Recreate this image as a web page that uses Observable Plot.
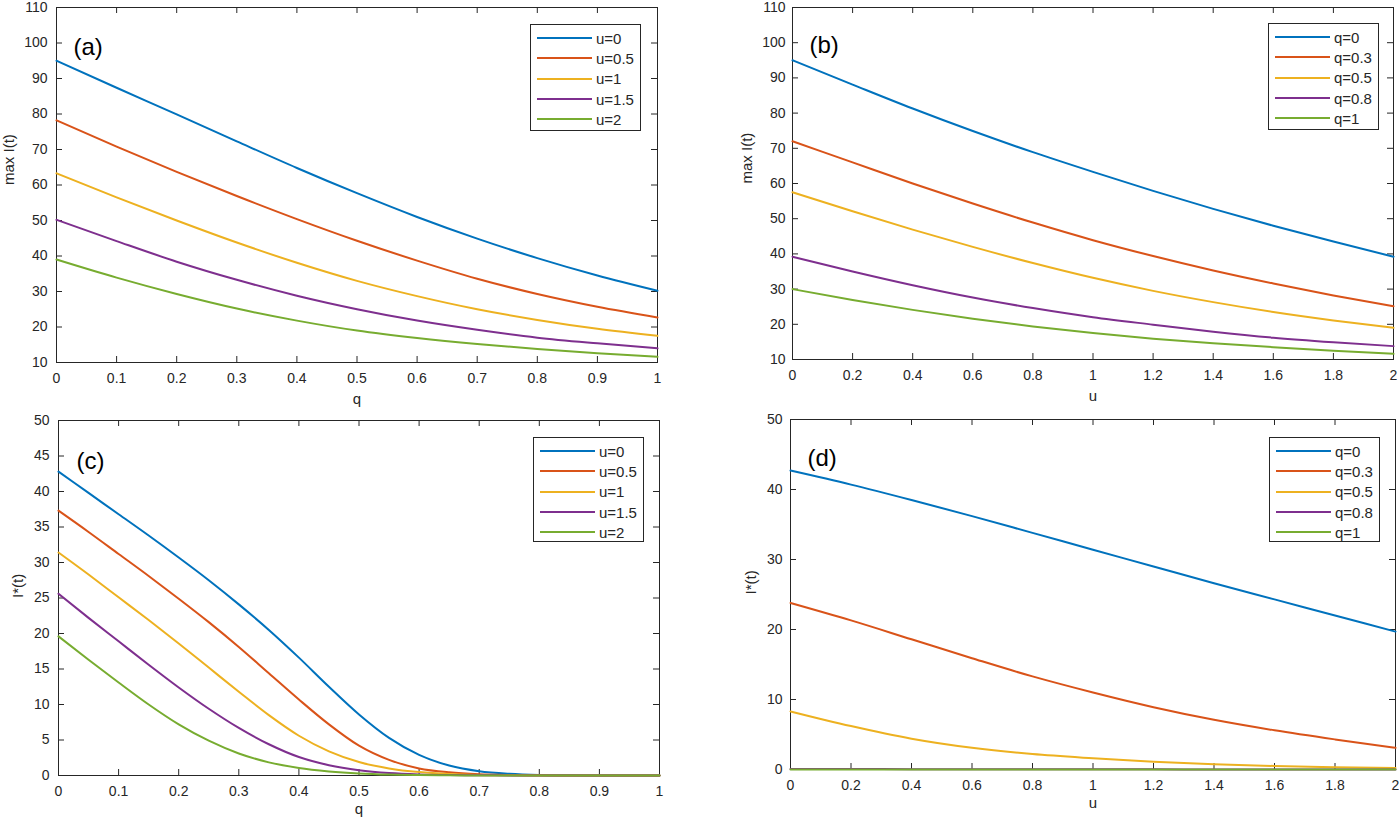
<!DOCTYPE html>
<html><head><meta charset="utf-8">
<script src="https://cdn.jsdelivr.net/npm/d3@7"></script>
<script src="https://cdn.jsdelivr.net/npm/@observablehq/plot@0.6"></script>
<style>
body{margin:0;background:#fff;font-family:"Liberation Sans",Arial,Helvetica,sans-serif;}
#wrap{position:relative;width:1399px;height:825px;overflow:hidden;background:#fff;}
.panel{position:absolute;}
.legend{position:absolute;border:1px solid #262626;background:#fff;box-sizing:border-box;padding-top:3px;}
.row{height:20.3px;display:flex;align-items:center;font-size:15px;color:#262626;white-space:nowrap;}
.sw{width:55px;height:2px;margin-left:6px;margin-right:4px;flex:none;}
</style></head><body><div id="wrap"></div>
<script>
// ---------- data ----------
const COLORS = ["#0072BD", "#D95319", "#EDB120", "#7E2F8E", "#77AC30"];

// panel (a): max I(t) vs q
const aNames = ["u=0", "u=0.5", "u=1", "u=1.5", "u=2"];
const aQ = [0, 0.1, 0.2, 0.3, 0.4, 0.5, 0.6, 0.7, 0.8, 0.9, 1];
const aU0  = [95.0, 87.4, 79.9, 72.3, 64.8, 57.7, 51.0, 44.9, 39.4, 34.5, 30.2];
const aU05 = [78.2, 70.8, 63.7, 56.9, 50.4, 44.3, 38.7, 33.6, 29.3, 25.7, 22.7];
const aU1  = [63.3, 56.5, 50.0, 43.8, 38.1, 33.0, 28.7, 25.0, 22.0, 19.5, 17.5];
const aU15 = [50.2, 44.2, 38.4, 33.3, 28.8, 25.0, 21.8, 19.2, 17.0, 15.4, 14.0];
const aU2  = [39.0, 33.9, 29.3, 25.2, 21.8, 19.0, 16.9, 15.2, 13.8, 12.6, 11.6];

// panel (b): max I(t) vs u
const bNames = ["q=0", "q=0.3", "q=0.5", "q=0.8", "q=1"];
const bU = [0, 0.2, 0.4, 0.6, 0.8, 1, 1.2, 1.4, 1.6, 1.8, 2];
const bQ0  = [95.0, 88.1, 81.3, 74.9, 68.9, 63.3, 57.9, 52.8, 48.0, 43.5, 39.2];
const bQ03 = [72.0, 66.0, 60.0, 54.3, 48.9, 43.9, 39.4, 35.3, 31.6, 28.2, 25.1];
const bQ05 = [57.5, 52.1, 46.9, 42.0, 37.4, 33.2, 29.5, 26.3, 23.5, 21.1, 19.0];
const bQ08 = [39.2, 35.0, 31.1, 27.6, 24.6, 22.0, 19.9, 17.9, 16.2, 14.9, 13.8];
const bQ1  = [30.0, 26.9, 24.1, 21.6, 19.4, 17.5, 15.9, 14.6, 13.5, 12.5, 11.6];

// panel (c): I*(t) vs q
const cNames = ["u=0", "u=0.5", "u=1", "u=1.5", "u=2"];
const cQ = [0, 0.05, 0.1, 0.15, 0.2, 0.25, 0.3, 0.35, 0.4, 0.45, 0.5, 0.55, 0.6, 0.65, 0.7, 0.75, 0.8, 0.85, 0.9, 0.95, 1];
const cU0  = [42.8, 39.8, 36.8, 33.8, 30.7, 27.5, 24.1, 20.5, 16.6, 12.5, 8.6, 5.3, 2.9, 1.4, 0.6, 0.24, 0.08, 0.03, 0.01, 0, 0];
const cU05 = [37.3, 34.3, 31.2, 28.1, 24.9, 21.6, 18.1, 14.4, 10.7, 7.2, 4.2, 2.2, 1.0, 0.45, 0.18, 0.07, 0.02, 0, 0, 0, 0];
const cU1  = [31.4, 28.3, 25.1, 21.9, 18.6, 15.2, 11.8, 8.5, 5.6, 3.4, 1.9, 1.0, 0.48, 0.2, 0.08, 0.03, 0.01, 0, 0, 0, 0];
const cU15 = [25.6, 22.2, 18.9, 15.6, 12.4, 9.4, 6.7, 4.4, 2.6, 1.45, 0.75, 0.35, 0.15, 0.06, 0.03, 0.01, 0, 0, 0, 0, 0];
const cU2  = [19.6, 16.3, 13.1, 10.0, 7.2, 4.9, 3.1, 1.85, 1.05, 0.58, 0.29, 0.13, 0.06, 0.02, 0.01, 0, 0, 0, 0, 0, 0];

// panel (d): I*(t) vs u
const dNames = ["q=0", "q=0.3", "q=0.5", "q=0.8", "q=1"];
const dU = [0, 0.2, 0.4, 0.6, 0.8, 1, 1.2, 1.4, 1.6, 1.8, 2];
const dQ0  = [42.7, 40.7, 38.5, 36.2, 33.8, 31.4, 29.0, 26.6, 24.3, 22.0, 19.7];
const dQ03 = [23.8, 21.3, 18.6, 15.9, 13.3, 11.0, 8.9, 7.1, 5.6, 4.3, 3.1];
const dQ05 = [8.3, 6.2, 4.4, 3.1, 2.2, 1.6, 1.1, 0.75, 0.5, 0.33, 0.2];
const dQ08 = [0.08, 0.06, 0.05, 0.04, 0.03, 0.02, 0.02, 0.01, 0.01, 0.01, 0.01];
const dQ1  = [0, 0, 0, 0, 0, 0, 0, 0, 0, 0, 0];

// tick values
const ticksQ = [0, 0.1, 0.2, 0.3, 0.4, 0.5, 0.6, 0.7, 0.8, 0.9, 1];
const ticksU = [0, 0.2, 0.4, 0.6, 0.8, 1, 1.2, 1.4, 1.6, 1.8, 2];
const ticksMax = [10, 20, 30, 40, 50, 60, 70, 80, 90, 100, 110];
const ticksIc = [0, 5, 10, 15, 20, 25, 30, 35, 40, 45, 50];
const ticksId = [0, 10, 20, 30, 40, 50];

// ---------- drawing ----------
const FONT = '"Liberation Sans", Arial, Helvetica, sans-serif';
const INK = "#262626";
const wrap = document.getElementById("wrap");

function panel(cfg) {
  const H = cfg.height - cfg.mt - cfg.mb;
  const W = cfg.width - cfg.ml - cfg.mr;
  const rows = [];
  cfg.series.forEach((vals, i) => vals.forEach((v, j) => rows.push({x: cfg.xs[j], y: v, s: cfg.names[i]})));
  const TL = 6;
  const fmt = d => String(+d.toFixed(2));
  const svg = Plot.plot({
    width: cfg.width, height: cfg.height,
    marginTop: cfg.mt, marginRight: cfg.mr, marginBottom: cfg.mb, marginLeft: cfg.ml,
    x: {domain: cfg.xDomain, label: null},
    y: {domain: cfg.yDomain, label: null},
    color: {domain: cfg.names, range: COLORS},
    style: {fontFamily: FONT, fontSize: "14px", color: INK, background: "white", overflow: "visible"},
    marks: [
      Plot.frame({stroke: INK, strokeWidth: 1}),
      Plot.ruleX(cfg.xTicks, {x: d => d, insetTop: H - TL, stroke: INK}),
      Plot.ruleX(cfg.xTicks, {x: d => d, insetBottom: H - TL, stroke: INK}),
      Plot.ruleY(cfg.yTicks, {y: d => d, insetRight: W - TL, stroke: INK}),
      Plot.ruleY(cfg.yTicks, {y: d => d, insetLeft: W - TL, stroke: INK}),
      Plot.line(rows, {x: "x", y: "y", z: "s", stroke: "s", strokeWidth: 2, curve: "monotone-x"}),
      Plot.axisX(cfg.xTicks, {tickSize: 0, tickPadding: cfg.xPad, tickFormat: fmt, label: null}),
      Plot.axisY(cfg.yTicks, {tickSize: 0, tickPadding: cfg.yPad, tickFormat: fmt, label: null}),
      Plot.text([cfg.xLabel], {frameAnchor: "bottom", dy: cfg.xlDy, fontSize: 15, fill: INK}),
      Plot.text([cfg.yLabel], {frameAnchor: "left", dx: cfg.ylDx, rotate: -90, fontSize: 15, fill: INK}),
      Plot.text([cfg.tag], {frameAnchor: "top-left", dx: cfg.tagDx, dy: cfg.tagDy, textAnchor: "start", fontSize: 24, fill: "black"})
    ]
  });
  svg.classList.add("panel");
  svg.style.left = cfg.left + "px";
  svg.style.top = cfg.top + "px";
  wrap.appendChild(svg);

  const lg = document.createElement("div");
  lg.className = "legend";
  lg.style.left = cfg.legend.left + "px";
  lg.style.top = cfg.legend.top + "px";
  lg.style.width = cfg.legend.width + "px";
  lg.style.height = cfg.legend.height + "px";
  cfg.names.forEach((n, i) => {
    const r = document.createElement("div");
    r.className = "row";
    const sw = document.createElement("div");
    sw.className = "sw";
    sw.style.background = COLORS[i];
    const t = document.createElement("span");
    t.textContent = n;
    r.appendChild(sw); r.appendChild(t);
    lg.appendChild(r);
  });
  wrap.appendChild(lg);
}

panel({
  left: 0, top: 0, width: 700, height: 410, mt: 7, mr: 43, mb: 48, ml: 56,
  xs: aQ, names: aNames, series: [aU0, aU05, aU1, aU15, aU2],
  xDomain: [0, 1], yDomain: [10, 110], xTicks: ticksQ, yTicks: ticksMax,
  xLabel: "q", yLabel: "max I(t)", xlDy: 41, ylDx: -47, xPad: 11, yPad: 9,
  tag: "(a)", tagDx: 17, tagDy: 30,
  legend: {left: 530, top: 24, width: 111, height: 107}
});
panel({
  left: 700, top: 0, width: 699, height: 410, mt: 7, mr: 6, mb: 51, ml: 92,
  xs: bU, names: bNames, series: [bQ0, bQ03, bQ05, bQ08, bQ1],
  xDomain: [0, 2], yDomain: [10, 110], xTicks: ticksU, yTicks: ticksMax,
  xLabel: "u", yLabel: "max I(t)", xlDy: 41, ylDx: -45, xPad: 11, yPad: 7,
  tag: "(b)", tagDx: 17, tagDy: 28,
  legend: {left: 1268, top: 23, width: 111, height: 107}
});
panel({
  left: 0, top: 410, width: 700, height: 415, mt: 10, mr: 41, mb: 50, ml: 58,
  xs: cQ, names: cNames, series: [cU0, cU05, cU1, cU15, cU2],
  xDomain: [0, 1], yDomain: [0, 50], xTicks: ticksQ, yTicks: ticksIc,
  xLabel: "q", yLabel: "I*(t)", xlDy: 38.5, ylDx: -40, xPad: 11, yPad: 9,
  tag: "(c)", tagDx: 18, tagDy: 31,
  legend: {left: 533, top: 437, width: 111, height: 105}
});
panel({
  left: 700, top: 410, width: 699, height: 415, mt: 9, mr: 4, mb: 56, ml: 90,
  xs: dU, names: dNames, series: [dQ0, dQ03, dQ05, dQ08, dQ1],
  xDomain: [0, 2], yDomain: [0, 50], xTicks: ticksU, yTicks: ticksId,
  xLabel: "u", yLabel: "I*(t)", xlDy: 38.5, ylDx: -39, xPad: 11, yPad: 8,
  tag: "(d)", tagDx: 17, tagDy: 29.5,
  legend: {left: 1269, top: 437, width: 111, height: 105}
});
</script>
</body></html>
